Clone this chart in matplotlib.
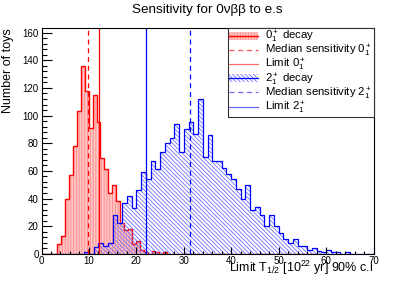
import numpy as np
import matplotlib
matplotlib.use("Agg")
import matplotlib.pyplot as plt
from matplotlib.patches import Patch
from matplotlib.lines import Line2D
from matplotlib.ticker import MultipleLocator

plt.rcParams['font.family'] = ['Liberation Sans', 'DejaVu Sans']
plt.rcParams['mathtext.fontset'] = 'custom'
plt.rcParams['mathtext.rm'] = 'Liberation Sans'
plt.rcParams['mathtext.it'] = 'Liberation Sans:italic'
plt.rcParams['hatch.linewidth'] = 0.6

# --- data (70 bins each) ---
RED_RANGE = (0.0, 58.0)
BLUE_RANGE = (0.0, 70.0)

# counts per bin, 0+ decay (bin width 58/70)
red_counts = [0, 0, 0, 0, 7, 13, 40, 57, 78, 103,
              136, 118, 91, 115, 95, 69, 61, 44, 50, 38,
              22, 17, 18, 7, 9, 3, 1, 0, 2, 1,
              0, 1, 0, 0, 0, 0, 0, 0, 0, 0,
              0, 0, 0, 0, 0, 0, 0, 0, 0, 0,
              0, 0, 0, 0, 0, 0, 0, 0, 0, 0,
              0, 0, 0, 0, 0, 0, 0, 0, 0, 0]

# counts per bin, 2+ decay (bin width 1)
blue_counts = [0, 0, 0, 0, 0, 0, 0, 0, 0, 1,
               0, 5, 8, 6, 8, 28, 22, 37, 42, 33,
               46, 59, 54, 67, 61, 74, 80, 84, 94, 74,
               90, 95, 87, 112, 70, 86, 67, 67, 62, 58,
               54, 47, 40, 50, 32, 34, 28, 20, 28, 20,
               15, 11, 8, 11, 6, 6, 3, 4, 2, 1,
               3, 1, 1, 0, 1, 0, 0, 0, 0, 0]

median_0 = 9.9
limit_0 = 12.05
median_2 = 31.4
limit_2 = 22.1

red_edges = np.linspace(RED_RANGE[0], RED_RANGE[1], len(red_counts) + 1)
blue_edges = np.linspace(BLUE_RANGE[0], BLUE_RANGE[1], len(blue_counts) + 1)

RED_FILL = '#ffc4c4'
RED_HATCH = '#ff8a8a'
BLUE_HATCH = '#7070ff'
RED_PAT = '||||||'
BLUE_PAT = '\\' * 8

fig = plt.figure(figsize=(4.15, 2.82), dpi=100)
ax = fig.add_axes([0.1, 0.1, 0.8, 0.8])

# 0+ histogram: pink fill with red vertical hatch
ax.stairs(red_counts, red_edges, fill=True, facecolor=RED_FILL,
          edgecolor=RED_HATCH, hatch=RED_PAT, linewidth=0)
ax.stairs(red_counts, red_edges, color='red', linewidth=1.0)

# 2+ histogram: diagonal blue hatch, no fill
ax.stairs(blue_counts, blue_edges, fill=True, facecolor='none',
          edgecolor=BLUE_HATCH, hatch=BLUE_PAT, linewidth=0)
ax.stairs(blue_counts, blue_edges, color='blue', linewidth=0.9)

ymax = 1.2 * max(red_counts)
ax.vlines(median_0, 0, ymax, colors='red', linestyles=(0, (4, 3)), linewidth=0.9)
ax.vlines(limit_0, 0, ymax, colors='red', linewidth=0.9)
ax.vlines(limit_2, 0, ymax, colors='blue', linewidth=0.9)
ax.vlines(median_2, 0, ymax, colors='blue', linestyles=(0, (4, 3)), linewidth=0.9)

ax.set_xlim(0, 70)
ax.set_ylim(0, ymax)
ax.xaxis.set_major_locator(MultipleLocator(10))
ax.xaxis.set_minor_locator(MultipleLocator(2))
ax.yaxis.set_major_locator(MultipleLocator(20))
ax.yaxis.set_minor_locator(MultipleLocator(4))
ax.tick_params(axis='both', which='both', direction='in', top=False, right=False,
               labelsize=7, width=0.8)
ax.tick_params(axis='y', which='major', length=7, pad=2)
ax.tick_params(axis='y', which='minor', length=3.5)
ax.tick_params(axis='x', which='major', length=5, pad=1.5)
ax.tick_params(axis='x', which='minor', length=2.5)
for sp in ax.spines.values():
    sp.set_linewidth(0.8)

fig.text(0.5, 1 - 10 / 282, 'Sensitivity for 0νββ to e.s', ha='center', va='center',
         fontsize=9.7)
fig.text(8 / 415, 1 - 28 / 282, 'Number of toys', rotation=90, ha='center', va='top',
         fontsize=9)
fig.text(373 / 415, 1 - 272 / 282, r'Limit T$_{1/2}$ [10$^{22}$ yr] 90% c.i',
         ha='right', va='baseline', fontsize=9)

handles = [
    (Patch(facecolor=RED_FILL, edgecolor=RED_HATCH, hatch=RED_PAT, linewidth=0),
     Line2D([], [], color='red', linewidth=1)),
    Line2D([], [], color='#ff5050', linestyle=(0, (4, 3)), linewidth=0.9),
    Line2D([], [], color='#ff6a6a', linewidth=0.9),
    (Patch(facecolor='none', edgecolor=BLUE_HATCH, hatch=BLUE_PAT, linewidth=0),
     Line2D([], [], color='blue', linewidth=0.9)),
    Line2D([], [], color='#6a6aff', linestyle=(0, (4, 3)), linewidth=0.9),
    Line2D([], [], color='#6a6aff', linewidth=0.9),
]
labels = [r'$0^+_1$ decay', r'Median sensitivity $0^+_1$', r'Limit $0^+_1$',
          r'$2^+_1$ decay', r'Median sensitivity $2^+_1$', r'Limit $2^+_1$']
leg = ax.legend(handles, labels, loc='upper left', bbox_to_anchor=(0.562, 1.0, 0.438, 0.0),
                mode='expand', fontsize=8.2, frameon=True, fancybox=False,
                edgecolor='#333333', framealpha=1, borderaxespad=0, borderpad=0.05,
                labelspacing=-0.18, handlelength=2.6, handletextpad=0.6,
                handleheight=0.7)
leg.get_frame().set_linewidth(0.8)

fig.savefig('out.png', dpi=100)
